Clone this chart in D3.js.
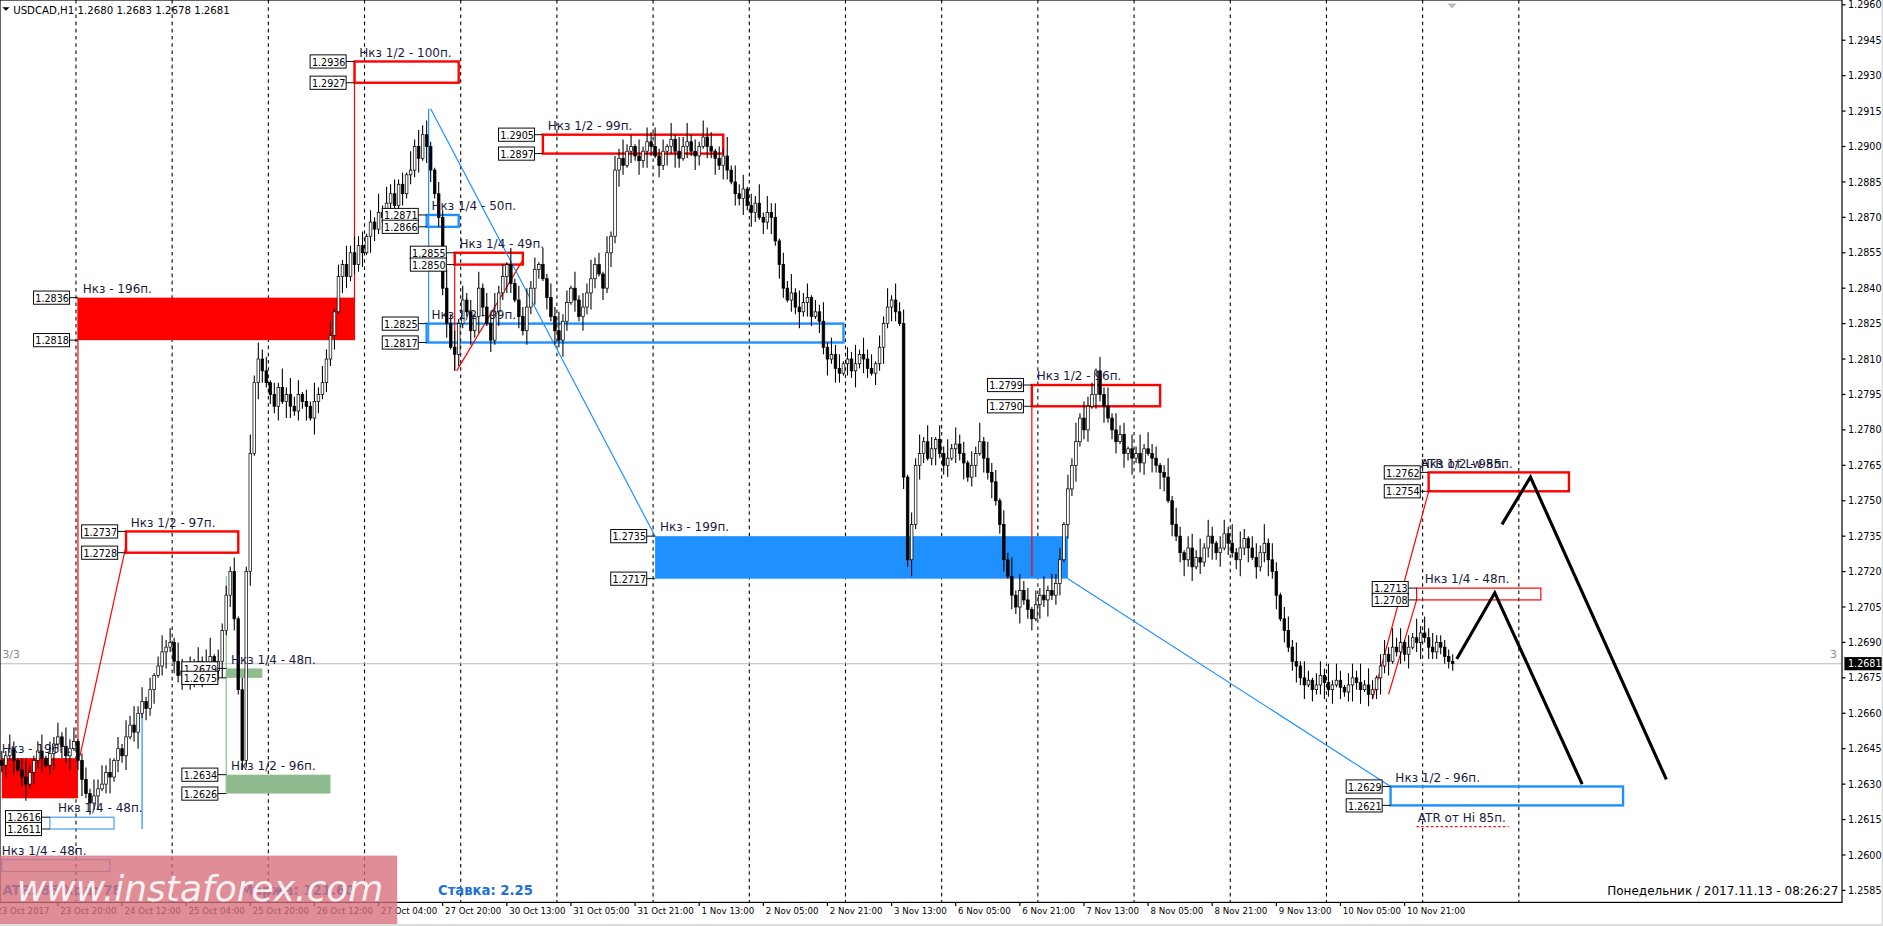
<!DOCTYPE html>
<html>
<head>
<meta charset="utf-8">
<script src="https://cdn.jsdelivr.net/npm/d3@7"></script>
<style>
  body { margin: 0; background: #fff; }
  text { font-family: Tahoma, "DejaVu Sans", sans-serif; }
</style>
</head>
<body>
<svg id="chart" width="1883" height="926"></svg>
<script>
// closes in pips above 1.2600, one per H1 bar
const closes = [
  38,42,45,40,36,33,30,35,40,44,41,38,43,47,50,46,42,45,48,
  40,32,26,22,25,28,
  30,35,33,40,45,42,50,55,52,60,65,62,70,76,80,86,88,90,
  82,76,78,74,80,78,82,76,80,84,78,82,
  95,110,120,100, 70,40, 120,170,200,210,
  205,200,195,190,198,192,195,190,188,195,192,190,185,192,195,200,
  210,220,230,245,250,245,255,250,258,
  255,262,268,265,272,270,276,280,275,284,280,288,
  290,300,295,305,300, 290,280,270,240,225,215,212,
  225,235,230,222,228,240,232,225,218,230,238,245,250,242,235,228,222,232,240,248,250,244,236,228,222,218,226,234,240,235,228,232,238,244,250,246,240,255,262,
  290,295,292,298,300,296,294,298,302,300,296,292,298,300,303,298,295,300,302,298,296,300,304,300,298,295,292,296,
  290,285,280,278,282,275,272,276,270,268,272,270,
  260,250,240,235,238,232,230,234,236,228,230,226,
  215,210,212,206,204,208,210,205,208,212,210,206,204,208,215,225,232,
  235,230,225, 160,125,140,
  165,170,175,168,172,176,170,165,168,172,174,170,166,160,165,170,175,168,162,158,150,
  140,125,118,110,105,112,108,104,100,106,110,108,112,110,115,
  125,140,155,165,175,185,180,190,195,
  205,195,190,185,
  180,175,178,170,172,168,170,166,172,170,168,165,162,160,
  150,140,135,128,125,130,122,126,124,
  130,135,132,128,130,136,132,128,125,130,134,130,126,122,128,132,125,120,
  110,100,95,88,82,80,
  75,72,74,70,72,76,73,70,72,74,71,69,72,75,73,70,72,68,
  70,75,80,85,82,88,86,90,85,88,92,90,94,92,88,
  86,90,88,84,82,81
];
const wickUp =
  "4263158324715362846135274836152748362514736285143627815342" +
  "6152837461528374615283746152837461528374625183746215384726" +
  "3517264835172648351726483517264835172648351726483517264835" +
  "2746153827461538274615382746153827461538274615382746153827" +
  "5163827451638274516382745163827451638274516382745163827451" +
  "3827415638274156382741563827415638274156382741563827415638" +
  "4615283746";
const wickDn =
  "3526147253614725361472536147253614725361472536147253614725" +
  "5243617524361752436175243617524361752436175243617524361752" +
  "2637415263741526374152637415263741526374152637415263741526" +
  "4153726415372641537264153726415372641537264153726415372641" +
  "3724516372451637245163724516372451637245163724516372451637" +
  "6152473615247361524736152473615247361524736152473615247361" +
  "2536147253";

const timeLabels = ["23 Oct 2017","23 Oct 20:00","24 Oct 12:00","25 Oct 04:00","25 Oct 20:00","26 Oct 12:00",
  "27 Oct 04:00","27 Oct 20:00","30 Oct 13:00","31 Oct 05:00","31 Oct 21:00","1 Nov 13:00","2 Nov 05:00",
  "2 Nov 21:00","3 Nov 13:00","6 Nov 05:00","6 Nov 21:00","7 Nov 13:00","8 Nov 05:00","8 Nov 21:00",
  "9 Nov 13:00","10 Nov 05:00","10 Nov 21:00"];
const priceTicks = d3.range(0, 26).map(i => +(1.2585 + i * 0.0015).toFixed(4));

// zones: bar range, price range, style, caption
const zones = [
  { b0: 0, b1: 19, hi: 1.2641, lo: 1.2624, kind: "redFill", text: ["Нкз - 196п."], tb: 0 },
  { b0: 12, b1: 28, hi: 1.2616, lo: 1.2611, kind: "blueThin", text: ["Нкз 1/4 - 48п."], tb: 14, labels: true },
  { b0: 0, b1: 27, hi: 1.2598, lo: 1.2593, kind: "blueThin", text: ["Нкз 1/4 - 48п."], tb: 0 },
  { b0: 19, b1: 88, hi: 1.2836, lo: 1.2818, kind: "redFill", text: ["Нкз - 196п."], labels: true },
  { b0: 31, b1: 59, hi: 1.2737, lo: 1.2728, kind: "red", text: ["Нкз 1/2 - 97п."], labels: true },
  { b0: 56, b1: 65, hi: 1.2679, lo: 1.2675, kind: "greenFill", text: ["Нкз 1/4 - 48п."], labels: true },
  { b0: 56, b1: 82, hi: 1.2634, lo: 1.2626, kind: "greenFill", text: ["Нкз 1/2 - 96п."], labels: true },
  { b0: 88, b1: 114, hi: 1.2936, lo: 1.2927, kind: "red", text: ["Нкз 1/2 - 100п."], labels: true },
  { b0: 106, b1: 114, hi: 1.2871, lo: 1.2866, kind: "blue", text: ["Нкз 1/4 - 50п."], labels: true },
  { b0: 113, b1: 130, hi: 1.2855, lo: 1.2850, kind: "red", text: ["Нкз 1/4 - 49п."], labels: true },
  { b0: 106, b1: 210, hi: 1.2825, lo: 1.2817, kind: "blue", text: ["Нкз 1/2 - 99п."], labels: true },
  { b0: 135, b1: 180, hi: 1.2905, lo: 1.2897, kind: "red", text: ["Нкз 1/2 - 99п."], labels: true },
  { b0: 163, b1: 266, hi: 1.2735, lo: 1.2717, kind: "blueFill", text: ["Нкз - 199п."], labels: true },
  { b0: 257, b1: 289, hi: 1.2799, lo: 1.2790, kind: "red", text: ["Нкз 1/2 - 96п."], labels: true },
  { b0: 356, b1: 391, hi: 1.2762, lo: 1.2754, kind: "red", text: ["ATR от Lw 85п.", "Нкз 1/2 - 95п."], tb: 354, labels: true },
  { b0: 353, b1: 384, hi: 1.2713, lo: 1.2708, kind: "redThin", text: ["Нкз 1/4 - 48п."], tb: 355, labels: true },
  { b0: 346.5, b1: 404.5, hi: 1.2629, lo: 1.2621, kind: "blue", text: ["Нкз 1/2 - 96п."], labels: true }
];
const atrLine = { b0: 353, b1: 376, p: 1.2612, text: "ATR от Hi 85п." };

const redLines = [
  [[19, 1.2836], [19, 1.2642]], [[19.5, 1.2642], [31, 1.2731]], [[88, 1.2936], [88, 1.2818]],
  [[113, 1.2855], [113, 1.2805]], [[113.5, 1.2805], [130, 1.2852]], [[257, 1.2799], [257, 1.2718]],
  [[342, 1.2666], [356, 1.2754]], [[346, 1.2668], [353, 1.2708]]
];
const blueLines = [
  [[106.5, 1.2916], [106.5, 1.2817]], [[107, 1.2916], [163, 1.2735]], [[266, 1.2717], [346.5, 1.2629]],
  [[35, 1.2660], [35, 1.2611]]
];
const greenLines = [[[56, 1.2718], [56, 1.2626]]];
const forecast = [
  [[363, 1.2683], [372.5, 1.2711], [394.3, 1.2630]],
  [[374.3, 1.2740], [381.4, 1.2760], [415.3, 1.2632]]
];
const lastPrice = 1.2681;

const svg = d3.select("#chart");
const g = svg.append("g").attr("transform", "scale(1.2)");
const W = 1535, H = 752;
const x = d3.scaleLinear().domain([0, 1]).range([1.5, 4.84]);
const y = d3.scaleLinear().domain([1.2960, 1.2585]).range([4, 742]);

g.append("rect").attr("x", 0).attr("y", 0).attr("width", 1569).attr("height", 771).attr("fill", "#fff");
const plot = g.append("g");
plot.append("clipPath").attr("id", "clip").append("rect").attr("width", W).attr("height", H);
const inner = plot.append("g").attr("clip-path", "url(#clip)");

// day separators
d3.range(0, 16).forEach(k => {
  const sx = x(19 + 24 * k) - 1.67;
  inner.append("line").attr("x1", sx).attr("x2", sx).attr("y1", 0).attr("y2", H)
    .attr("stroke", "#000").attr("stroke-dasharray", "3,3").attr("stroke-width", 0.9);
});

// current price line
inner.append("line").attr("x1", 0).attr("x2", W).attr("y1", y(lastPrice)).attr("y2", y(lastPrice))
  .attr("stroke", "#bbb").attr("stroke-width", 0.9);
inner.append("text").attr("x", 2).attr("y", y(lastPrice) - 5).attr("font-size", 9).attr("fill", "#888").text("3/3");
inner.append("text").attr("x", W - 10).attr("y", y(lastPrice) - 5).attr("font-size", 9).attr("fill", "#888").text("3");

const colors = {
  red: "#ff0000", redThin: "#ff0000", redFill: "#ff0000", blue: "#1e90ff", blueThin: "#4a9cf5",
  blueFill: "#1e90ff", greenFill: "#8fbc8f"
};

// zones
zones.forEach(z => {
  const fill = z.kind.endsWith("Fill");
  const sw = z.kind === "redThin" || z.kind === "blueThin" ? 1 : 2;
  inner.append("rect")
    .attr("x", x(z.b0)).attr("y", y(z.hi))
    .attr("width", x(z.b1) - x(z.b0)).attr("height", y(z.lo) - y(z.hi))
    .attr("fill", fill ? colors[z.kind] : "none")
    .attr("stroke", fill ? "none" : colors[z.kind]).attr("stroke-width", sw);
});

const lineGen = d3.line().x(d => x(d[0])).y(d => y(d[1]));
redLines.forEach(l => inner.append("path").attr("d", lineGen(l)).attr("stroke", "#ff0000").attr("fill", "none").attr("stroke-width", 1));
blueLines.forEach(l => inner.append("path").attr("d", lineGen(l)).attr("stroke", "#1e90ff").attr("fill", "none").attr("stroke-width", 1));
greenLines.forEach(l => inner.append("path").attr("d", lineGen(l)).attr("stroke", "#8fbc8f").attr("fill", "none").attr("stroke-width", 1));

// candles
const bars = closes.map((c, i) => {
  const o = i === 0 ? 40 : closes[i - 1];
  const hu = +(wickUp[i] || 3), ld = +(wickDn[i] || 3);
  return { i, o: 1.26 + o / 10000, c: 1.26 + c / 10000, h: 1.26 + (Math.max(o, c) + hu) / 10000, l: 1.26 + (Math.min(o, c) - ld) / 10000 };
});
const cg = inner.append("g");
cg.selectAll("line").data(bars).enter().append("line")
  .attr("x1", d => x(d.i)).attr("x2", d => x(d.i)).attr("y1", d => y(d.h)).attr("y2", d => y(d.l))
  .attr("stroke", d => d.o === d.c ? "#888" : "#000").attr("stroke-width", 0.9);
cg.selectAll("rect").data(bars).enter().append("rect")
  .attr("x", d => x(d.i) - 1.1).attr("width", 2.2)
  .attr("y", d => y(Math.max(d.o, d.c))).attr("height", d => Math.max(0.8, Math.abs(y(d.o) - y(d.c))))
  .attr("fill", d => d.c < d.o ? "#000" : "#fff").attr("stroke", "#000").attr("stroke-width", 0.6);

// forecast paths
forecast.forEach(l => inner.append("path").attr("d", lineGen(l)).attr("stroke", "#000").attr("fill", "none").attr("stroke-width", 2.6));

// zone captions and price labels
zones.forEach(z => {
  const tx = z.tb !== undefined ? x(z.tb) : x(z.b0) + 4;
  z.text.forEach(t => inner.append("text").attr("x", tx).attr("y", y(z.hi) - 4)
    .attr("font-size", 10).attr("fill", "#1a1a40").text(t));
  if (z.labels) {
    [z.hi, z.lo].forEach(p => {
      const bx = x(z.b0) - 37;
      inner.append("line").attr("x1", bx + 30).attr("x2", x(z.b0)).attr("y1", y(p)).attr("y2", y(p)).attr("stroke", "#000").attr("stroke-width", 0.8);
      inner.append("rect").attr("x", bx).attr("y", y(p) - 5.5).attr("width", 30).attr("height", 11)
        .attr("fill", "#fff").attr("stroke", "#000").attr("stroke-width", 0.8);
      inner.append("text").attr("x", bx + 1.5).attr("y", y(p) + 3.5).attr("font-size", 8).attr("fill", "#000").text(p.toFixed(4));
    });
  }
});
inner.append("line").attr("x1", x(atrLine.b0)).attr("x2", x(atrLine.b1)).attr("y1", y(atrLine.p)).attr("y2", y(atrLine.p))
  .attr("stroke", "#ff0000").attr("stroke-dasharray", "2,2");
inner.append("text").attr("x", x(atrLine.b0) + 1).attr("y", y(atrLine.p) - 4).attr("font-size", 10).attr("fill", "#1a1a40").text(atrLine.text);

// frame
g.append("rect").attr("x", 0).attr("y", 0).attr("width", W).attr("height", H).attr("fill", "none").attr("stroke", "#000").attr("stroke-width", 1);
g.append("line").attr("x1", 1569).attr("x2", 1569).attr("y1", 0).attr("y2", 771).attr("stroke", "#ddd").attr("stroke-width", 2);
g.append("line").attr("x1", 0).attr("x2", 1569).attr("y1", 771).attr("y2", 771).attr("stroke", "#ddd").attr("stroke-width", 2);

// price axis
const pa = g.append("g");
priceTicks.forEach(p => {
  pa.append("line").attr("x1", W).attr("x2", W + 3).attr("y1", y(p)).attr("y2", y(p)).attr("stroke", "#000");
  pa.append("text").attr("x", W + 5).attr("y", y(p) + 3).attr("font-size", 8).attr("fill", "#000").text(p.toFixed(4));
});
pa.append("rect").attr("x", W + 2).attr("y", y(lastPrice) - 5.5).attr("width", 31).attr("height", 11).attr("fill", "#000");
pa.append("text").attr("x", W + 5).attr("y", y(lastPrice) + 3).attr("font-size", 8).attr("fill", "#fff").text(lastPrice.toFixed(4));

// time axis
timeLabels.forEach((t, k) => {
  const tx = x(16 * k - 2);
  g.append("line").attr("x1", tx).attr("x2", tx).attr("y1", H).attr("y2", H + 3).attr("stroke", "#000");
  g.append("text").attr("x", tx + 2).attr("y", H + 10).attr("font-size", 7.2).attr("fill", "#000").text(t);
});

// header and info
g.append("path").attr("d", "M2,6 L8,6 L5,9 Z").attr("fill", "#000");
g.append("text").attr("x", 11).attr("y", 12).attr("font-size", 8.5).attr("fill", "#000").text("USDCAD,H1  1.2680 1.2683 1.2678 1.2681");
g.append("path").attr("d", "M1206,3 L1214,3 L1210,7 Z").attr("fill", "#bbb");
g.append("text").attr("x", 365).attr("y", 746).attr("font-size", 11).attr("font-weight", "bold").attr("fill", "#1e6fd6").text("Ставка: 2.25");
g.append("text").attr("x", 1532).attr("y", 746).attr("text-anchor", "end").attr("font-size", 10).attr("fill", "#000").text("Понедельник  /  2017.11.13  -  08:26:27");
g.append("text").attr("x", 2).attr("y", 746).attr("font-size", 11).attr("font-weight", "bold").attr("fill", "#1e6fd6").text("ATR: 85   Ход: 78");
g.append("text").attr("x", 200).attr("y", 746).attr("font-size", 11).attr("font-weight", "bold").attr("fill", "#1e6fd6").text("Маржа: 121.60");

// watermark
g.append("rect").attr("x", 0).attr("y", 713).attr("width", 331).attr("height", 57).attr("fill", "rgba(214,110,122,0.78)");
g.append("text").attr("x", 14).attr("y", 751).attr("font-size", 30).attr("font-style", "italic")
  .attr("fill", "rgba(255,255,255,0.9)").attr("font-family", "'DejaVu Sans', sans-serif").text("www.instaforex.com");
</script>
</body>
</html>
